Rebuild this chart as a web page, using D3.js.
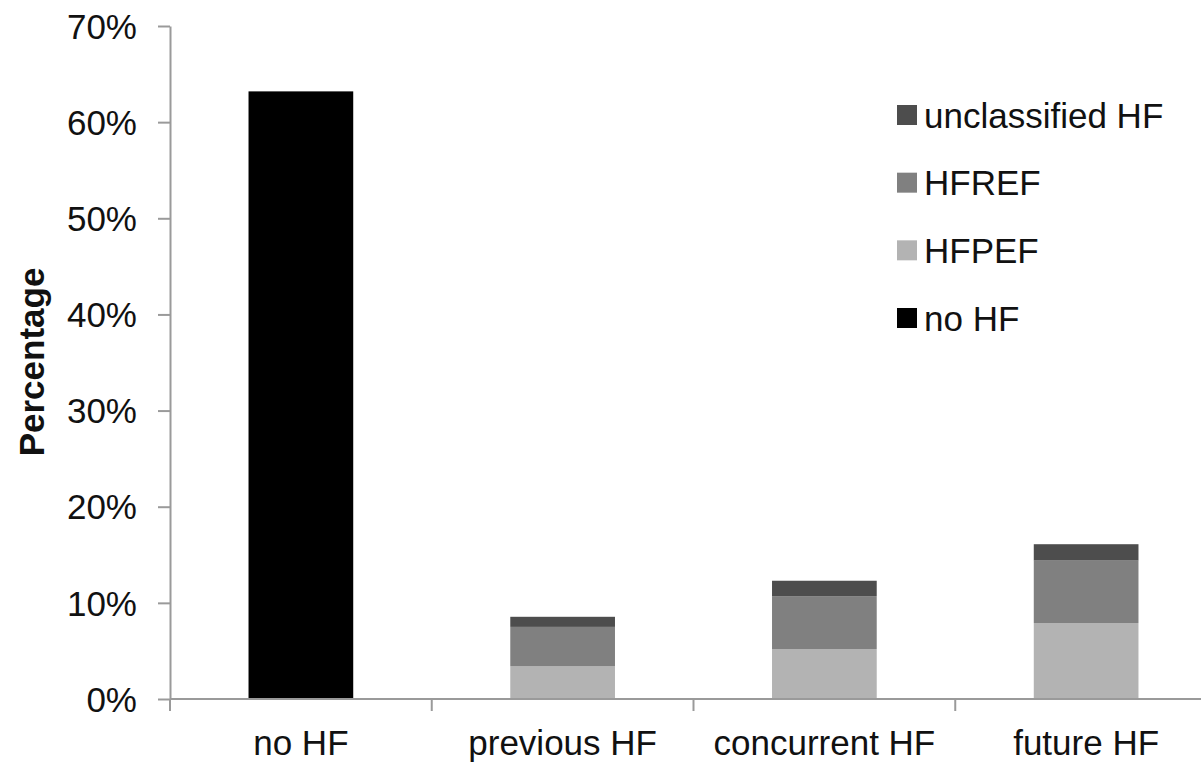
<!DOCTYPE html>
<html>
<head>
<meta charset="utf-8">
<script src="https://cdn.jsdelivr.net/npm/d3@7"></script>
<style>
  html, body { margin: 0; padding: 0; background: #fff; }
  svg { display: block; font-family: "Liberation Sans", Arial, sans-serif; }
</style>
</head>
<body>
<svg id="chart" width="1201" height="766"></svg>
<script>
// Share of patients by heart-failure timing, split by HF type (%)
const categories = ["no HF", "previous HF", "concurrent HF", "future HF"];
const noHF         = [63.2, 0, 0, 0];
const hfpef        = [0, 3.4, 5.2, 7.9];
const hfref        = [0, 4.1, 5.5, 6.5];
const unclassified = [0, 1.05, 1.6, 1.7];
const yTicks = [0, 10, 20, 30, 40, 50, 60, 70];

const seriesKeys = ["noHF", "hfpef", "hfref", "unclassified"];
const seriesNames = { noHF: "no HF", hfpef: "HFPEF", hfref: "HFREF", unclassified: "unclassified HF" };
const colors = { noHF: "#000000", hfpef: "#b3b3b3", hfref: "#808080", unclassified: "#4d4d4d" };
const legendOrder = ["unclassified", "hfref", "hfpef", "noHF"];

const rows = categories.map((c, i) => ({
  category: c, noHF: noHF[i], hfpef: hfpef[i], hfref: hfref[i], unclassified: unclassified[i]
}));

const svg = d3.select("#chart");
const axisColor = "#9a9a9a";

const x = d3.scaleBand().domain(categories).range([170, 1217]).paddingInner(0).paddingOuter(0);
const y = d3.scaleLinear().domain([0, 70]).range([699, 26]);
const barW = x.bandwidth() * 0.4;

const stacked = d3.stack().keys(seriesKeys)(rows);

// bars
svg.append("g").selectAll("g")
  .data(stacked)
  .join("g")
  .attr("fill", d => colors[d.key])
  .selectAll("rect")
  .data(d => d.filter(s => s[1] - s[0] > 0))
  .join("rect")
  .attr("x", d => x(d.data.category) + (x.bandwidth() - barW) / 2)
  .attr("width", barW)
  .attr("y", d => y(d[1]))
  .attr("height", d => y(d[0]) - y(d[1]));

// y axis
const yAxis = svg.append("g")
  .attr("transform", "translate(170,0)")
  .call(d3.axisLeft(y).tickValues(yTicks).tickFormat(d => d + "%").tickSize(12).tickPadding(21).tickSizeOuter(0));
yAxis.select(".domain").attr("stroke", axisColor).attr("stroke-width", 2);
yAxis.selectAll(".tick line").attr("stroke", axisColor).attr("stroke-width", 2);
yAxis.selectAll(".tick text")
  .attr("fill", "#111")
  .style("font-size", "35px")
  .attr("dy", "0.35em");

// x axis: ticks at category boundaries
const bounds = categories.map(c => x(c)).concat([x.range()[1]]);
const xAxisG = svg.append("g");
xAxisG.append("line")
  .attr("x1", x.range()[0]).attr("x2", x.range()[1])
  .attr("y1", y(0)).attr("y2", y(0))
  .attr("stroke", axisColor).attr("stroke-width", 2);
xAxisG.selectAll("line.b")
  .data(bounds)
  .join("line")
  .attr("class", "b")
  .attr("x1", d => d).attr("x2", d => d)
  .attr("y1", y(0)).attr("y2", y(0) + 12)
  .attr("stroke", axisColor).attr("stroke-width", 2);
xAxisG.selectAll("text")
  .data(categories)
  .join("text")
  .attr("x", d => x(d) + x.bandwidth() / 2)
  .attr("y", 755)
  .attr("text-anchor", "middle")
  .attr("fill", "#111")
  .style("font-size", "35px")
  .text(d => d);

// y axis title
svg.append("text")
  .attr("transform", "translate(44,362) rotate(-90)")
  .attr("text-anchor", "middle")
  .attr("fill", "#111")
  .style("font-size", "35px")
  .style("font-weight", "bold")
  .text("Percentage");

// legend
const legend = svg.append("g");
const legendY = d3.scalePoint().domain(legendOrder).range([115, 318]);
const items = legend.selectAll("g")
  .data(legendOrder)
  .join("g")
  .attr("transform", d => `translate(897,${legendY(d)})`);
items.append("rect")
  .attr("x", 0).attr("y", -10)
  .attr("width", 20).attr("height", 20)
  .attr("fill", d => colors[d]);
items.append("text")
  .attr("x", 27)
  .attr("dy", "0.36em")
  .attr("fill", "#111")
  .style("font-size", "35px")
  .text(d => seriesNames[d]);
</script>
</body>
</html>
